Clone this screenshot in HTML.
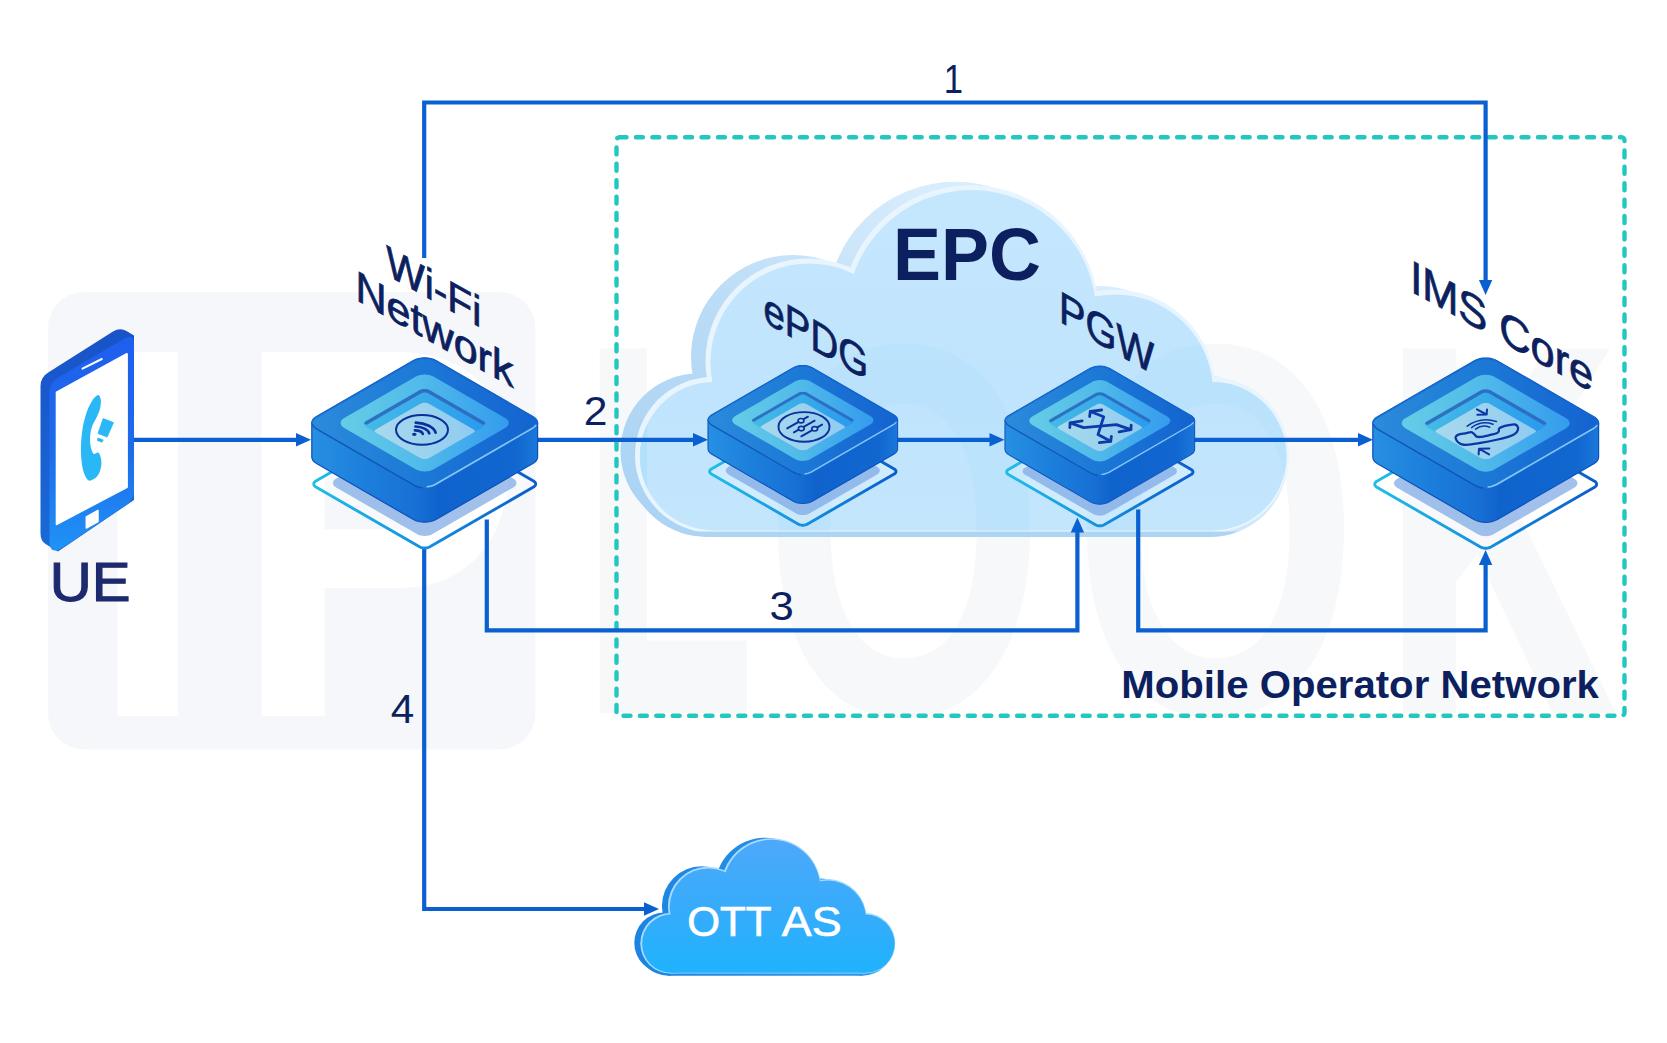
<!DOCTYPE html>
<html lang="en">
<head>
<meta charset="utf-8">
<title>VoWiFi network architecture</title>
<style>
html,body{margin:0;padding:0;background:#ffffff;}
body{width:1667px;height:1043px;overflow:hidden;font-family:"Liberation Sans", Arial, sans-serif;}
svg{display:block;}
</style>
</head>
<body>
<svg width="1667" height="1043" viewBox="0 0 1667 1043">
<defs>

<linearGradient id="gSide" gradientUnits="userSpaceOnUse" x1="-113" y1="0" x2="113" y2="0">
 <stop offset="0" stop-color="#2690e2"/><stop offset="0.25" stop-color="#1c7edb"/>
 <stop offset="0.46" stop-color="#1870d5"/><stop offset="0.56" stop-color="#1063cd"/>
 <stop offset="0.9" stop-color="#1166d0"/><stop offset="1" stop-color="#1b78da"/>
</linearGradient>
<linearGradient id="gTop" gradientUnits="userSpaceOnUse" x1="-113" y1="0" x2="113" y2="0">
 <stop offset="0" stop-color="#2b8bdb"/><stop offset="0.5" stop-color="#1c78d6"/><stop offset="1" stop-color="#1463d0"/>
</linearGradient>
<linearGradient id="gRing" gradientUnits="userSpaceOnUse" x1="-85" y1="0" x2="85" y2="0">
 <stop offset="0" stop-color="#66cde6"/><stop offset="0.5" stop-color="#4fb9ea"/><stop offset="1" stop-color="#349bee"/>
</linearGradient>
<linearGradient id="gWall" gradientUnits="userSpaceOnUse" x1="-61" y1="0" x2="61" y2="0">
 <stop offset="0" stop-color="#45bbe6"/><stop offset="1" stop-color="#2a9aee"/>
</linearGradient>
<linearGradient id="gFloor" gradientUnits="userSpaceOnUse" x1="-55" y1="0" x2="55" y2="0">
 <stop offset="0" stop-color="#a9daec"/><stop offset="1" stop-color="#8ecbf1"/>
</linearGradient>
<linearGradient id="gPlate" gradientUnits="userSpaceOnUse" x1="-113" y1="0" x2="113" y2="0">
 <stop offset="0" stop-color="#1fbfe8"/><stop offset="0.5" stop-color="#1590de"/><stop offset="1" stop-color="#0a5ccc"/>
</linearGradient>

<clipPath id="cOpen"><polygon points="58.5,-2 59.5,-1.4 60.1,-0.6 60.6,0.2 60.7,1 60.6,1.8 60.1,2.6 59.5,3.4 58.5,4 5.2,34.8 4.1,35.3 2.8,35.7 1.4,36 0,36 -1.4,36 -2.8,35.7 -4.1,35.3 -5.2,34.8 -58.5,4 -59.5,3.4 -60.1,2.6 -60.6,1.8 -60.7,1 -60.6,0.2 -60.1,-0.6 -59.5,-1.4 -58.5,-2 -5.2,-32.8 -4.1,-33.3 -2.8,-33.7 -1.4,-34 0,-34 1.4,-34 2.8,-33.7 4.1,-33.3 5.2,-32.8"/></clipPath>

<linearGradient id="gEpcBack" gradientUnits="userSpaceOnUse" x1="620" y1="540" x2="900" y2="180">
 <stop offset="0" stop-color="#a9d2f3"/><stop offset="0.5" stop-color="#b9dbf6"/><stop offset="1" stop-color="#d7ecfc"/>
</linearGradient>
<linearGradient id="gEpcFace" gradientUnits="userSpaceOnUse" x1="0" y1="185" x2="0" y2="531">
 <stop offset="0" stop-color="#c5e7fe"/><stop offset="0.6" stop-color="#c0e4fd"/><stop offset="1" stop-color="#c3e6fd"/>
</linearGradient>
<linearGradient id="gOttFace" gradientUnits="userSpaceOnUse" x1="0" y1="838" x2="0" y2="974">
 <stop offset="0" stop-color="#4ea8fa"/><stop offset="0.55" stop-color="#35acfb"/><stop offset="1" stop-color="#1fb3fd"/>
</linearGradient>
<linearGradient id="gOttBack" gradientUnits="userSpaceOnUse" x1="634" y1="0" x2="900" y2="0">
 <stop offset="0" stop-color="#1c84e0"/><stop offset="1" stop-color="#2f9bee"/>
</linearGradient>
<linearGradient id="gPhone" gradientUnits="userSpaceOnUse" x1="0" y1="335" x2="0" y2="550">
 <stop offset="0" stop-color="#1f5eee"/><stop offset="0.55" stop-color="#1d6ceb"/><stop offset="1" stop-color="#2093f6"/>
</linearGradient>
<linearGradient id="gPhoneSide" gradientUnits="userSpaceOnUse" x1="0" y1="330" x2="0" y2="550">
 <stop offset="0" stop-color="#1853c8"/><stop offset="1" stop-color="#1a6ad8"/>
</linearGradient>

<clipPath id="cEpc"><circle cx="714.2" cy="456.2" r="74.3"/><circle cx="809.2" cy="362.2" r="98.8"/><circle cx="971.5" cy="314.9" r="124.8"/><circle cx="1115.2" cy="392.2" r="97.8"/><circle cx="1212.2" cy="456.2" r="74.3"/><polygon points="714.2,530.5 714.2,456.2 809.2,362.2 971.5,314.9 1115.2,392.2 1212.2,456.2 1212.2,530.5"/></clipPath>
<clipPath id="cEpcAll"><circle cx="705" cy="459" r="77.5"/><circle cx="800" cy="365" r="102"/><circle cx="962.3" cy="317.7" r="128"/><circle cx="1106" cy="395" r="101"/><circle cx="1203" cy="459" r="77.5"/><polygon points="705,536.5 705,459 800,365 962.3,317.7 1106,395 1203,459 1203,536.5"/><circle cx="712" cy="459" r="78"/><circle cx="807" cy="365" r="102.5"/><circle cx="969.3" cy="317.7" r="128.5"/><circle cx="1113" cy="395" r="101.5"/><circle cx="1210" cy="459" r="78"/><polygon points="712,537 712,459 807,365 969.3,317.7 1113,395 1210,459 1210,537"/></clipPath>
</defs>
<rect width="1667" height="1043" fill="#ffffff"/>
<g id="watermark" font-family="'Liberation Sans', Arial, sans-serif" font-weight="bold" font-size="529">
<rect x="48" y="292" width="487.5" height="457.5" rx="36" fill="#f6f7fa"/>
<text x="89.4" y="716" font-size="529" fill="#ffffff" textLength="116.7" lengthAdjust="spacingAndGlyphs">I</text>
<text x="232.4" y="716" font-size="529" fill="#ffffff" textLength="291.6" lengthAdjust="spacingAndGlyphs">P</text>
<text x="585.9" y="705" font-size="506.5" fill="#f7f8fa" stroke="#f7f8fa" stroke-width="16" stroke-linejoin="miter" textLength="164.9" lengthAdjust="spacingAndGlyphs">L</text>
<text x="763.1" y="713" font-size="529" fill="#f7f8fa" textLength="282.1" lengthAdjust="spacingAndGlyphs">O</text>
<text x="1071.8" y="713" font-size="529" fill="#f7f8fa" textLength="287.7" lengthAdjust="spacingAndGlyphs">O</text>
<text x="1386.3" y="706" font-size="509.5" fill="#f7f8fa" stroke="#f7f8fa" stroke-width="14" stroke-linejoin="miter" textLength="223.6" lengthAdjust="spacingAndGlyphs">K</text>
</g>
<rect x="616.5" y="137.2" width="1008" height="578.6" rx="3" fill="none" stroke="#22c8c0" stroke-width="4.4" stroke-dasharray="7 9.4" stroke-linecap="round"/>
<g id="epc">
<g fill="url(#gEpcBack)"><circle cx="698" cy="451" r="77.5"/><circle cx="793" cy="357" r="102"/><circle cx="955.3" cy="309.7" r="128"/><circle cx="1099" cy="387" r="101"/><circle cx="1196" cy="451" r="77.5"/><polygon points="698,528.5 698,451 793,357 955.3,309.7 1099,387 1196,451 1196,528.5"/><circle cx="705" cy="459" r="77.5"/><circle cx="800" cy="365" r="102"/><circle cx="962.3" cy="317.7" r="128"/><circle cx="1106" cy="395" r="101"/><circle cx="1203" cy="459" r="77.5"/><polygon points="705,536.5 705,459 800,365 962.3,317.7 1106,395 1203,459 1203,536.5"/><circle cx="712" cy="459" r="78"/><circle cx="807" cy="365" r="102.5"/><circle cx="969.3" cy="317.7" r="128.5"/><circle cx="1113" cy="395" r="101.5"/><circle cx="1210" cy="459" r="78"/><polygon points="712,537 712,459 807,365 969.3,317.7 1113,395 1210,459 1210,537"/></g>
<g fill="#e9f5fe"><circle cx="713" cy="455" r="78"/><circle cx="808" cy="361" r="102.5"/><circle cx="970.3" cy="313.7" r="128.5"/><circle cx="1114" cy="391" r="101.5"/><circle cx="1211" cy="455" r="78"/><polygon points="713,533 713,455 808,361 970.3,313.7 1114,391 1211,455 1211,533"/></g>
<g fill="url(#gEpcFace)"><circle cx="714.2" cy="456.2" r="74.3"/><circle cx="809.2" cy="362.2" r="98.8"/><circle cx="971.5" cy="314.9" r="124.8"/><circle cx="1115.2" cy="392.2" r="97.8"/><circle cx="1212.2" cy="456.2" r="74.3"/><polygon points="714.2,530.5 714.2,456.2 809.2,362.2 971.5,314.9 1115.2,392.2 1212.2,456.2 1212.2,530.5"/></g>
<g clip-path="url(#cEpc)" font-family="'Liberation Sans', Arial, sans-serif" font-weight="bold" font-size="529" fill="#b3e0fb" fill-opacity="0.45">
<text x="585.9" y="705" font-size="506.5" fill="#b3e0fb" stroke="#b3e0fb" stroke-width="16" stroke-linejoin="miter" textLength="164.9" lengthAdjust="spacingAndGlyphs">L</text>
<text x="763.1" y="713" font-size="529" fill="#b3e0fb" textLength="282.1" lengthAdjust="spacingAndGlyphs">O</text>
<text x="1071.8" y="713" font-size="529" fill="#b3e0fb" textLength="287.7" lengthAdjust="spacingAndGlyphs">O</text>
</g>
<rect x="660" y="531.6" width="600" height="6" fill="#aed4f4" clip-path="url(#cEpcAll)"/>
</g>
<g id="lines">
<path d="M424.2 258 V102.5 H1485.6 V283" fill="none" stroke="#0a60d0" stroke-width="4.2" stroke-linejoin="miter"/>
<polygon points="1485.6,295 1478.9,280 1492.3,280" fill="#0a60d0"/>
<path d="M134 439.8 H299" fill="none" stroke="#0a60d0" stroke-width="4.2" stroke-linejoin="miter"/>
<polygon points="311,439.8 296,433.1 296,446.5" fill="#0a60d0"/>
<path d="M530 439.8 H696" fill="none" stroke="#0a60d0" stroke-width="4.2" stroke-linejoin="miter"/>
<polygon points="708,439.8 693,433.1 693,446.5" fill="#0a60d0"/>
<path d="M890 439.8 H992" fill="none" stroke="#0a60d0" stroke-width="4.2" stroke-linejoin="miter"/>
<polygon points="1004.5,439.8 989.5,433.1 989.5,446.5" fill="#0a60d0"/>
<path d="M1190 439.8 H1360" fill="none" stroke="#0a60d0" stroke-width="4.2" stroke-linejoin="miter"/>
<polygon points="1373,439.8 1358,433.1 1358,446.5" fill="#0a60d0"/>
<path d="M486.8 519.5 V630.3 H1077.4 V530" fill="none" stroke="#0a60d0" stroke-width="4.2" stroke-linejoin="miter"/>
<polygon points="1077.4,517.5 1070.7,532.5 1084.1,532.5" fill="#0a60d0"/>
<path d="M1138.2 509.5 V630.3 H1485.6 V562" fill="none" stroke="#0a60d0" stroke-width="4.2" stroke-linejoin="miter"/>
<polygon points="1485.6,550 1478.9,565 1492.3,565" fill="#0a60d0"/>
<path d="M424.2 548 V909 H646" fill="none" stroke="#0a60d0" stroke-width="4.2" stroke-linejoin="miter"/>
<polygon points="659,909 644,902.3 644,915.7" fill="#0a60d0"/>
</g>
<g class="node" transform="translate(424.7 423) scale(1.0)"><polygon points="108.8,58 109.7,58.6 110.4,59.4 110.8,60.2 110.9,61 110.8,61.8 110.4,62.6 109.7,63.4 108.8,64 5.2,123.8 4.1,124.3 2.8,124.7 1.4,125 0,125 -1.4,125 -2.8,124.7 -4.1,124.3 -5.2,123.8 -108.8,64 -109.7,63.4 -110.4,62.6 -110.8,61.8 -110.9,61 -110.8,60.2 -110.4,59.4 -109.7,58.6 -108.8,58 -5.2,-1.8 -4.1,-2.3 -2.8,-2.7 -1.4,-3 0,-3 1.4,-3 2.8,-2.7 4.1,-2.3 5.2,-1.8" fill="#ffffff" fill-opacity="0.24" stroke="url(#gPlate)" stroke-width="2.9" stroke-linejoin="round" vector-effect="non-scaling-stroke"/>
<polygon points="88.5,55.5 89.9,56.5 90.9,57.6 91.5,58.8 91.7,60 91.5,61.2 90.9,62.4 89.9,63.5 88.5,64.5 7.8,111.1 6.1,111.9 4.2,112.5 2.2,112.8 0,113 -2.2,112.8 -4.2,112.5 -6.1,111.9 -7.8,111.1 -88.5,64.5 -89.9,63.5 -90.9,62.4 -91.5,61.2 -91.7,60 -91.5,58.8 -90.9,57.6 -89.9,56.5 -88.5,55.5 -7.8,8.9 -6.1,8.1 -4.2,7.5 -2.2,7.2 0,7 2.2,7.2 4.2,7.5 6.1,8.1 7.8,8.9" fill="#74a3e3" fill-opacity="0.68"/>
<polygon points="-112.9,0 -112.6,-1.8 -111.7,-3.5 -110.2,-5.1 -108.2,-6.5 -11.3,-62.5 -8.8,-63.6 -6.1,-64.5 -3.1,-65 0,-65.2 3.1,-65 6.1,-64.5 8.8,-63.6 11.3,-62.5 108.2,-6.5 110.2,-5.1 111.7,-3.5 112.6,-1.8 112.9,0 112.9,34 112.6,35.8 111.7,37.5 110.2,39.1 108.2,40.5 11.3,96.5 8.8,97.6 6.1,98.5 3.1,99 0,99.2 -3.1,99 -6.1,98.5 -8.8,97.6 -11.3,96.5 -108.2,40.5 -110.2,39.1 -111.7,37.5 -112.6,35.8 -112.9,34" fill="url(#gSide)" stroke="#0c50ba" stroke-width="1.2" stroke-linejoin="round"/>
<polygon points="108.2,-6.5 110.2,-5.1 111.7,-3.5 112.6,-1.8 112.9,0 112.6,1.8 111.7,3.5 110.2,5.1 108.2,6.5 11.3,62.5 8.8,63.6 6.1,64.5 3.1,65 0,65.2 -3.1,65 -6.1,64.5 -8.8,63.6 -11.3,62.5 -108.2,6.5 -110.2,5.1 -111.7,3.5 -112.6,1.8 -112.9,0 -112.6,-1.8 -111.7,-3.5 -110.2,-5.1 -108.2,-6.5 -11.3,-62.5 -8.8,-63.6 -6.1,-64.5 -3.1,-65 0,-65.2 3.1,-65 6.1,-64.5 8.8,-63.6 11.3,-62.5" fill="url(#gTop)"/>
<polyline points="-112.9,0.6 -112.6,-1.2 -111.7,-2.9 -110.2,-4.5 -108.2,-5.9 -11.3,-61.9 -8.8,-63 -6.1,-63.9 -3.1,-64.4 0,-64.6 3.1,-64.4 6.1,-63.9 8.8,-63 11.3,-61.9 108.2,-5.9 110.2,-4.5 111.7,-2.9 112.6,-1.2 112.9,0.6" fill="none" stroke="#1266ce" stroke-width="1.5" stroke-linecap="round" opacity="0.8"/>
<polyline points="111.2,2.3 109.7,3.9 107.8,5.3 10.8,61.3 8.3,62.4 5.6,63.3 2.6,63.8" fill="none" stroke="#8ed2fb" stroke-width="1.6" stroke-linecap="round" opacity="0.9"/>
<polyline points="-2.6,64.7 -5.6,64.2 -8.3,63.3 -10.8,62.2 -107.8,6.2 -109.7,4.8 -111.2,3.2 -112.1,1.5" fill="none" stroke="#0d4fb4" stroke-width="1.5" stroke-linecap="round" opacity="0.85"/>
<polygon points="80.4,-5 81.9,-3.9 83,-2.7 83.7,-1.4 84,0 83.7,1.4 83,2.7 81.9,3.9 80.4,5 8.7,46.4 6.8,47.3 4.7,47.9 2.4,48.3 0,48.5 -2.4,48.3 -4.7,47.9 -6.8,47.3 -8.7,46.4 -80.4,5 -81.9,3.9 -83,2.7 -83.7,1.4 -84,0 -83.7,-1.4 -83,-2.7 -81.9,-3.9 -80.4,-5 -8.7,-46.4 -6.8,-47.3 -4.7,-47.9 -2.4,-48.3 0,-48.5 2.4,-48.3 4.7,-47.9 6.8,-47.3 8.7,-46.4" fill="url(#gRing)"/>
<polygon points="58.5,-2 59.5,-1.4 60.1,-0.6 60.6,0.2 60.7,1 60.6,1.8 60.1,2.6 59.5,3.4 58.5,4 5.2,34.8 4.1,35.3 2.8,35.7 1.4,36 0,36 -1.4,36 -2.8,35.7 -4.1,35.3 -5.2,34.8 -58.5,4 -59.5,3.4 -60.1,2.6 -60.6,1.8 -60.7,1 -60.6,0.2 -60.1,-0.6 -59.5,-1.4 -58.5,-2 -5.2,-32.8 -4.1,-33.3 -2.8,-33.7 -1.4,-34 0,-34 1.4,-34 2.8,-33.7 4.1,-33.3 5.2,-32.8" fill="url(#gWall)"/>
<g clip-path="url(#cOpen)">
<polygon points="48.5,6.3 49.3,6.8 49.8,7.4 50.2,8.1 50.3,8.8 50.2,9.5 49.8,10.2 49.3,10.8 48.5,11.3 4.3,36.8 3.4,37.2 2.3,37.6 1.2,37.8 0,37.8 -1.2,37.8 -2.3,37.6 -3.4,37.2 -4.3,36.8 -48.5,11.3 -49.3,10.8 -49.8,10.2 -50.2,9.5 -50.3,8.8 -50.2,8.1 -49.8,7.4 -49.3,6.8 -48.5,6.3 -4.3,-19.2 -3.4,-19.6 -2.3,-20 -1.2,-20.2 0,-20.2 1.2,-20.2 2.3,-20 3.4,-19.6 4.3,-19.2" fill="url(#gFloor)"/>
<polyline points="-60.7,1 -60.6,0.2 -60.1,-0.6 -59.5,-1.4 -58.5,-2 -5.2,-32.8 -4.1,-33.3 -2.8,-33.7 -1.4,-34 0,-34 1.4,-34 2.8,-33.7 4.1,-33.3 5.2,-32.8 58.5,-2 59.5,-1.4 60.1,-0.6 60.6,0.2 60.7,1" fill="none" stroke="#2c69be" stroke-width="7" stroke-linejoin="round" opacity="0.9"/>
</g></g>
<g class="node" transform="translate(802.8 420.2) scale(0.84)"><polygon points="108.8,58 109.7,58.6 110.4,59.4 110.8,60.2 110.9,61 110.8,61.8 110.4,62.6 109.7,63.4 108.8,64 5.2,123.8 4.1,124.3 2.8,124.7 1.4,125 0,125 -1.4,125 -2.8,124.7 -4.1,124.3 -5.2,123.8 -108.8,64 -109.7,63.4 -110.4,62.6 -110.8,61.8 -110.9,61 -110.8,60.2 -110.4,59.4 -109.7,58.6 -108.8,58 -5.2,-1.8 -4.1,-2.3 -2.8,-2.7 -1.4,-3 0,-3 1.4,-3 2.8,-2.7 4.1,-2.3 5.2,-1.8" fill="#ffffff" fill-opacity="0.24" stroke="url(#gPlate)" stroke-width="2.9" stroke-linejoin="round" vector-effect="non-scaling-stroke"/>
<polygon points="88.5,55.5 89.9,56.5 90.9,57.6 91.5,58.8 91.7,60 91.5,61.2 90.9,62.4 89.9,63.5 88.5,64.5 7.8,111.1 6.1,111.9 4.2,112.5 2.2,112.8 0,113 -2.2,112.8 -4.2,112.5 -6.1,111.9 -7.8,111.1 -88.5,64.5 -89.9,63.5 -90.9,62.4 -91.5,61.2 -91.7,60 -91.5,58.8 -90.9,57.6 -89.9,56.5 -88.5,55.5 -7.8,8.9 -6.1,8.1 -4.2,7.5 -2.2,7.2 0,7 2.2,7.2 4.2,7.5 6.1,8.1 7.8,8.9" fill="#74a3e3" fill-opacity="0.68"/>
<polygon points="-112.9,0 -112.6,-1.8 -111.7,-3.5 -110.2,-5.1 -108.2,-6.5 -11.3,-62.5 -8.8,-63.6 -6.1,-64.5 -3.1,-65 0,-65.2 3.1,-65 6.1,-64.5 8.8,-63.6 11.3,-62.5 108.2,-6.5 110.2,-5.1 111.7,-3.5 112.6,-1.8 112.9,0 112.9,34 112.6,35.8 111.7,37.5 110.2,39.1 108.2,40.5 11.3,96.5 8.8,97.6 6.1,98.5 3.1,99 0,99.2 -3.1,99 -6.1,98.5 -8.8,97.6 -11.3,96.5 -108.2,40.5 -110.2,39.1 -111.7,37.5 -112.6,35.8 -112.9,34" fill="url(#gSide)" stroke="#0c50ba" stroke-width="1.2" stroke-linejoin="round"/>
<polygon points="108.2,-6.5 110.2,-5.1 111.7,-3.5 112.6,-1.8 112.9,0 112.6,1.8 111.7,3.5 110.2,5.1 108.2,6.5 11.3,62.5 8.8,63.6 6.1,64.5 3.1,65 0,65.2 -3.1,65 -6.1,64.5 -8.8,63.6 -11.3,62.5 -108.2,6.5 -110.2,5.1 -111.7,3.5 -112.6,1.8 -112.9,0 -112.6,-1.8 -111.7,-3.5 -110.2,-5.1 -108.2,-6.5 -11.3,-62.5 -8.8,-63.6 -6.1,-64.5 -3.1,-65 0,-65.2 3.1,-65 6.1,-64.5 8.8,-63.6 11.3,-62.5" fill="url(#gTop)"/>
<polyline points="-112.9,0.6 -112.6,-1.2 -111.7,-2.9 -110.2,-4.5 -108.2,-5.9 -11.3,-61.9 -8.8,-63 -6.1,-63.9 -3.1,-64.4 0,-64.6 3.1,-64.4 6.1,-63.9 8.8,-63 11.3,-61.9 108.2,-5.9 110.2,-4.5 111.7,-2.9 112.6,-1.2 112.9,0.6" fill="none" stroke="#1266ce" stroke-width="1.5" stroke-linecap="round" opacity="0.8"/>
<polyline points="111.2,2.3 109.7,3.9 107.8,5.3 10.8,61.3 8.3,62.4 5.6,63.3 2.6,63.8" fill="none" stroke="#8ed2fb" stroke-width="1.6" stroke-linecap="round" opacity="0.9"/>
<polyline points="-2.6,64.7 -5.6,64.2 -8.3,63.3 -10.8,62.2 -107.8,6.2 -109.7,4.8 -111.2,3.2 -112.1,1.5" fill="none" stroke="#0d4fb4" stroke-width="1.5" stroke-linecap="round" opacity="0.85"/>
<polygon points="80.4,-5 81.9,-3.9 83,-2.7 83.7,-1.4 84,0 83.7,1.4 83,2.7 81.9,3.9 80.4,5 8.7,46.4 6.8,47.3 4.7,47.9 2.4,48.3 0,48.5 -2.4,48.3 -4.7,47.9 -6.8,47.3 -8.7,46.4 -80.4,5 -81.9,3.9 -83,2.7 -83.7,1.4 -84,0 -83.7,-1.4 -83,-2.7 -81.9,-3.9 -80.4,-5 -8.7,-46.4 -6.8,-47.3 -4.7,-47.9 -2.4,-48.3 0,-48.5 2.4,-48.3 4.7,-47.9 6.8,-47.3 8.7,-46.4" fill="url(#gRing)"/>
<polygon points="58.5,-2 59.5,-1.4 60.1,-0.6 60.6,0.2 60.7,1 60.6,1.8 60.1,2.6 59.5,3.4 58.5,4 5.2,34.8 4.1,35.3 2.8,35.7 1.4,36 0,36 -1.4,36 -2.8,35.7 -4.1,35.3 -5.2,34.8 -58.5,4 -59.5,3.4 -60.1,2.6 -60.6,1.8 -60.7,1 -60.6,0.2 -60.1,-0.6 -59.5,-1.4 -58.5,-2 -5.2,-32.8 -4.1,-33.3 -2.8,-33.7 -1.4,-34 0,-34 1.4,-34 2.8,-33.7 4.1,-33.3 5.2,-32.8" fill="url(#gWall)"/>
<g clip-path="url(#cOpen)">
<polygon points="48.5,6.3 49.3,6.8 49.8,7.4 50.2,8.1 50.3,8.8 50.2,9.5 49.8,10.2 49.3,10.8 48.5,11.3 4.3,36.8 3.4,37.2 2.3,37.6 1.2,37.8 0,37.8 -1.2,37.8 -2.3,37.6 -3.4,37.2 -4.3,36.8 -48.5,11.3 -49.3,10.8 -49.8,10.2 -50.2,9.5 -50.3,8.8 -50.2,8.1 -49.8,7.4 -49.3,6.8 -48.5,6.3 -4.3,-19.2 -3.4,-19.6 -2.3,-20 -1.2,-20.2 0,-20.2 1.2,-20.2 2.3,-20 3.4,-19.6 4.3,-19.2" fill="url(#gFloor)"/>
<polyline points="-60.7,1 -60.6,0.2 -60.1,-0.6 -59.5,-1.4 -58.5,-2 -5.2,-32.8 -4.1,-33.3 -2.8,-33.7 -1.4,-34 0,-34 1.4,-34 2.8,-33.7 4.1,-33.3 5.2,-32.8 58.5,-2 59.5,-1.4 60.1,-0.6 60.6,0.2 60.7,1" fill="none" stroke="#2c69be" stroke-width="7" stroke-linejoin="round" opacity="0.9"/>
</g></g>
<g class="node" transform="translate(1099.8 420.8) scale(0.84)"><polygon points="108.8,58 109.7,58.6 110.4,59.4 110.8,60.2 110.9,61 110.8,61.8 110.4,62.6 109.7,63.4 108.8,64 5.2,123.8 4.1,124.3 2.8,124.7 1.4,125 0,125 -1.4,125 -2.8,124.7 -4.1,124.3 -5.2,123.8 -108.8,64 -109.7,63.4 -110.4,62.6 -110.8,61.8 -110.9,61 -110.8,60.2 -110.4,59.4 -109.7,58.6 -108.8,58 -5.2,-1.8 -4.1,-2.3 -2.8,-2.7 -1.4,-3 0,-3 1.4,-3 2.8,-2.7 4.1,-2.3 5.2,-1.8" fill="#ffffff" fill-opacity="0.24" stroke="url(#gPlate)" stroke-width="2.9" stroke-linejoin="round" vector-effect="non-scaling-stroke"/>
<polygon points="88.5,55.5 89.9,56.5 90.9,57.6 91.5,58.8 91.7,60 91.5,61.2 90.9,62.4 89.9,63.5 88.5,64.5 7.8,111.1 6.1,111.9 4.2,112.5 2.2,112.8 0,113 -2.2,112.8 -4.2,112.5 -6.1,111.9 -7.8,111.1 -88.5,64.5 -89.9,63.5 -90.9,62.4 -91.5,61.2 -91.7,60 -91.5,58.8 -90.9,57.6 -89.9,56.5 -88.5,55.5 -7.8,8.9 -6.1,8.1 -4.2,7.5 -2.2,7.2 0,7 2.2,7.2 4.2,7.5 6.1,8.1 7.8,8.9" fill="#74a3e3" fill-opacity="0.68"/>
<polygon points="-112.9,0 -112.6,-1.8 -111.7,-3.5 -110.2,-5.1 -108.2,-6.5 -11.3,-62.5 -8.8,-63.6 -6.1,-64.5 -3.1,-65 0,-65.2 3.1,-65 6.1,-64.5 8.8,-63.6 11.3,-62.5 108.2,-6.5 110.2,-5.1 111.7,-3.5 112.6,-1.8 112.9,0 112.9,34 112.6,35.8 111.7,37.5 110.2,39.1 108.2,40.5 11.3,96.5 8.8,97.6 6.1,98.5 3.1,99 0,99.2 -3.1,99 -6.1,98.5 -8.8,97.6 -11.3,96.5 -108.2,40.5 -110.2,39.1 -111.7,37.5 -112.6,35.8 -112.9,34" fill="url(#gSide)" stroke="#0c50ba" stroke-width="1.2" stroke-linejoin="round"/>
<polygon points="108.2,-6.5 110.2,-5.1 111.7,-3.5 112.6,-1.8 112.9,0 112.6,1.8 111.7,3.5 110.2,5.1 108.2,6.5 11.3,62.5 8.8,63.6 6.1,64.5 3.1,65 0,65.2 -3.1,65 -6.1,64.5 -8.8,63.6 -11.3,62.5 -108.2,6.5 -110.2,5.1 -111.7,3.5 -112.6,1.8 -112.9,0 -112.6,-1.8 -111.7,-3.5 -110.2,-5.1 -108.2,-6.5 -11.3,-62.5 -8.8,-63.6 -6.1,-64.5 -3.1,-65 0,-65.2 3.1,-65 6.1,-64.5 8.8,-63.6 11.3,-62.5" fill="url(#gTop)"/>
<polyline points="-112.9,0.6 -112.6,-1.2 -111.7,-2.9 -110.2,-4.5 -108.2,-5.9 -11.3,-61.9 -8.8,-63 -6.1,-63.9 -3.1,-64.4 0,-64.6 3.1,-64.4 6.1,-63.9 8.8,-63 11.3,-61.9 108.2,-5.9 110.2,-4.5 111.7,-2.9 112.6,-1.2 112.9,0.6" fill="none" stroke="#1266ce" stroke-width="1.5" stroke-linecap="round" opacity="0.8"/>
<polyline points="111.2,2.3 109.7,3.9 107.8,5.3 10.8,61.3 8.3,62.4 5.6,63.3 2.6,63.8" fill="none" stroke="#8ed2fb" stroke-width="1.6" stroke-linecap="round" opacity="0.9"/>
<polyline points="-2.6,64.7 -5.6,64.2 -8.3,63.3 -10.8,62.2 -107.8,6.2 -109.7,4.8 -111.2,3.2 -112.1,1.5" fill="none" stroke="#0d4fb4" stroke-width="1.5" stroke-linecap="round" opacity="0.85"/>
<polygon points="80.4,-5 81.9,-3.9 83,-2.7 83.7,-1.4 84,0 83.7,1.4 83,2.7 81.9,3.9 80.4,5 8.7,46.4 6.8,47.3 4.7,47.9 2.4,48.3 0,48.5 -2.4,48.3 -4.7,47.9 -6.8,47.3 -8.7,46.4 -80.4,5 -81.9,3.9 -83,2.7 -83.7,1.4 -84,0 -83.7,-1.4 -83,-2.7 -81.9,-3.9 -80.4,-5 -8.7,-46.4 -6.8,-47.3 -4.7,-47.9 -2.4,-48.3 0,-48.5 2.4,-48.3 4.7,-47.9 6.8,-47.3 8.7,-46.4" fill="url(#gRing)"/>
<polygon points="58.5,-2 59.5,-1.4 60.1,-0.6 60.6,0.2 60.7,1 60.6,1.8 60.1,2.6 59.5,3.4 58.5,4 5.2,34.8 4.1,35.3 2.8,35.7 1.4,36 0,36 -1.4,36 -2.8,35.7 -4.1,35.3 -5.2,34.8 -58.5,4 -59.5,3.4 -60.1,2.6 -60.6,1.8 -60.7,1 -60.6,0.2 -60.1,-0.6 -59.5,-1.4 -58.5,-2 -5.2,-32.8 -4.1,-33.3 -2.8,-33.7 -1.4,-34 0,-34 1.4,-34 2.8,-33.7 4.1,-33.3 5.2,-32.8" fill="url(#gWall)"/>
<g clip-path="url(#cOpen)">
<polygon points="48.5,6.3 49.3,6.8 49.8,7.4 50.2,8.1 50.3,8.8 50.2,9.5 49.8,10.2 49.3,10.8 48.5,11.3 4.3,36.8 3.4,37.2 2.3,37.6 1.2,37.8 0,37.8 -1.2,37.8 -2.3,37.6 -3.4,37.2 -4.3,36.8 -48.5,11.3 -49.3,10.8 -49.8,10.2 -50.2,9.5 -50.3,8.8 -50.2,8.1 -49.8,7.4 -49.3,6.8 -48.5,6.3 -4.3,-19.2 -3.4,-19.6 -2.3,-20 -1.2,-20.2 0,-20.2 1.2,-20.2 2.3,-20 3.4,-19.6 4.3,-19.2" fill="url(#gFloor)"/>
<polyline points="-60.7,1 -60.6,0.2 -60.1,-0.6 -59.5,-1.4 -58.5,-2 -5.2,-32.8 -4.1,-33.3 -2.8,-33.7 -1.4,-34 0,-34 1.4,-34 2.8,-33.7 4.1,-33.3 5.2,-32.8 58.5,-2 59.5,-1.4 60.1,-0.6 60.6,0.2 60.7,1" fill="none" stroke="#2c69be" stroke-width="7" stroke-linejoin="round" opacity="0.9"/>
</g></g>
<g class="node" transform="translate(1485.7 423.2) scale(1.0)"><polygon points="108.8,58 109.7,58.6 110.4,59.4 110.8,60.2 110.9,61 110.8,61.8 110.4,62.6 109.7,63.4 108.8,64 5.2,123.8 4.1,124.3 2.8,124.7 1.4,125 0,125 -1.4,125 -2.8,124.7 -4.1,124.3 -5.2,123.8 -108.8,64 -109.7,63.4 -110.4,62.6 -110.8,61.8 -110.9,61 -110.8,60.2 -110.4,59.4 -109.7,58.6 -108.8,58 -5.2,-1.8 -4.1,-2.3 -2.8,-2.7 -1.4,-3 0,-3 1.4,-3 2.8,-2.7 4.1,-2.3 5.2,-1.8" fill="#ffffff" fill-opacity="0.24" stroke="url(#gPlate)" stroke-width="2.9" stroke-linejoin="round" vector-effect="non-scaling-stroke"/>
<polygon points="88.5,55.5 89.9,56.5 90.9,57.6 91.5,58.8 91.7,60 91.5,61.2 90.9,62.4 89.9,63.5 88.5,64.5 7.8,111.1 6.1,111.9 4.2,112.5 2.2,112.8 0,113 -2.2,112.8 -4.2,112.5 -6.1,111.9 -7.8,111.1 -88.5,64.5 -89.9,63.5 -90.9,62.4 -91.5,61.2 -91.7,60 -91.5,58.8 -90.9,57.6 -89.9,56.5 -88.5,55.5 -7.8,8.9 -6.1,8.1 -4.2,7.5 -2.2,7.2 0,7 2.2,7.2 4.2,7.5 6.1,8.1 7.8,8.9" fill="#74a3e3" fill-opacity="0.68"/>
<polygon points="-112.9,0 -112.6,-1.8 -111.7,-3.5 -110.2,-5.1 -108.2,-6.5 -11.3,-62.5 -8.8,-63.6 -6.1,-64.5 -3.1,-65 0,-65.2 3.1,-65 6.1,-64.5 8.8,-63.6 11.3,-62.5 108.2,-6.5 110.2,-5.1 111.7,-3.5 112.6,-1.8 112.9,0 112.9,34 112.6,35.8 111.7,37.5 110.2,39.1 108.2,40.5 11.3,96.5 8.8,97.6 6.1,98.5 3.1,99 0,99.2 -3.1,99 -6.1,98.5 -8.8,97.6 -11.3,96.5 -108.2,40.5 -110.2,39.1 -111.7,37.5 -112.6,35.8 -112.9,34" fill="url(#gSide)" stroke="#0c50ba" stroke-width="1.2" stroke-linejoin="round"/>
<polygon points="108.2,-6.5 110.2,-5.1 111.7,-3.5 112.6,-1.8 112.9,0 112.6,1.8 111.7,3.5 110.2,5.1 108.2,6.5 11.3,62.5 8.8,63.6 6.1,64.5 3.1,65 0,65.2 -3.1,65 -6.1,64.5 -8.8,63.6 -11.3,62.5 -108.2,6.5 -110.2,5.1 -111.7,3.5 -112.6,1.8 -112.9,0 -112.6,-1.8 -111.7,-3.5 -110.2,-5.1 -108.2,-6.5 -11.3,-62.5 -8.8,-63.6 -6.1,-64.5 -3.1,-65 0,-65.2 3.1,-65 6.1,-64.5 8.8,-63.6 11.3,-62.5" fill="url(#gTop)"/>
<polyline points="-112.9,0.6 -112.6,-1.2 -111.7,-2.9 -110.2,-4.5 -108.2,-5.9 -11.3,-61.9 -8.8,-63 -6.1,-63.9 -3.1,-64.4 0,-64.6 3.1,-64.4 6.1,-63.9 8.8,-63 11.3,-61.9 108.2,-5.9 110.2,-4.5 111.7,-2.9 112.6,-1.2 112.9,0.6" fill="none" stroke="#1266ce" stroke-width="1.5" stroke-linecap="round" opacity="0.8"/>
<polyline points="111.2,2.3 109.7,3.9 107.8,5.3 10.8,61.3 8.3,62.4 5.6,63.3 2.6,63.8" fill="none" stroke="#8ed2fb" stroke-width="1.6" stroke-linecap="round" opacity="0.9"/>
<polyline points="-2.6,64.7 -5.6,64.2 -8.3,63.3 -10.8,62.2 -107.8,6.2 -109.7,4.8 -111.2,3.2 -112.1,1.5" fill="none" stroke="#0d4fb4" stroke-width="1.5" stroke-linecap="round" opacity="0.85"/>
<polygon points="80.4,-5 81.9,-3.9 83,-2.7 83.7,-1.4 84,0 83.7,1.4 83,2.7 81.9,3.9 80.4,5 8.7,46.4 6.8,47.3 4.7,47.9 2.4,48.3 0,48.5 -2.4,48.3 -4.7,47.9 -6.8,47.3 -8.7,46.4 -80.4,5 -81.9,3.9 -83,2.7 -83.7,1.4 -84,0 -83.7,-1.4 -83,-2.7 -81.9,-3.9 -80.4,-5 -8.7,-46.4 -6.8,-47.3 -4.7,-47.9 -2.4,-48.3 0,-48.5 2.4,-48.3 4.7,-47.9 6.8,-47.3 8.7,-46.4" fill="url(#gRing)"/>
<polygon points="58.5,-2 59.5,-1.4 60.1,-0.6 60.6,0.2 60.7,1 60.6,1.8 60.1,2.6 59.5,3.4 58.5,4 5.2,34.8 4.1,35.3 2.8,35.7 1.4,36 0,36 -1.4,36 -2.8,35.7 -4.1,35.3 -5.2,34.8 -58.5,4 -59.5,3.4 -60.1,2.6 -60.6,1.8 -60.7,1 -60.6,0.2 -60.1,-0.6 -59.5,-1.4 -58.5,-2 -5.2,-32.8 -4.1,-33.3 -2.8,-33.7 -1.4,-34 0,-34 1.4,-34 2.8,-33.7 4.1,-33.3 5.2,-32.8" fill="url(#gWall)"/>
<g clip-path="url(#cOpen)">
<polygon points="48.5,6.3 49.3,6.8 49.8,7.4 50.2,8.1 50.3,8.8 50.2,9.5 49.8,10.2 49.3,10.8 48.5,11.3 4.3,36.8 3.4,37.2 2.3,37.6 1.2,37.8 0,37.8 -1.2,37.8 -2.3,37.6 -3.4,37.2 -4.3,36.8 -48.5,11.3 -49.3,10.8 -49.8,10.2 -50.2,9.5 -50.3,8.8 -50.2,8.1 -49.8,7.4 -49.3,6.8 -48.5,6.3 -4.3,-19.2 -3.4,-19.6 -2.3,-20 -1.2,-20.2 0,-20.2 1.2,-20.2 2.3,-20 3.4,-19.6 4.3,-19.2" fill="url(#gFloor)"/>
<polyline points="-60.7,1 -60.6,0.2 -60.1,-0.6 -59.5,-1.4 -58.5,-2 -5.2,-32.8 -4.1,-33.3 -2.8,-33.7 -1.4,-34 0,-34 1.4,-34 2.8,-33.7 4.1,-33.3 5.2,-32.8 58.5,-2 59.5,-1.4 60.1,-0.6 60.6,0.2 60.7,1" fill="none" stroke="#2c69be" stroke-width="7" stroke-linejoin="round" opacity="0.9"/>
</g></g>
<g id="ic-wifi" fill="none" stroke="#0c2f9c" stroke-linecap="round">
<ellipse cx="422" cy="429.8" rx="26" ry="14.9" stroke-width="2"/>
<ellipse cx="414.3" cy="434.3" rx="2.3" ry="1.6" fill="#0c2f9c" stroke="none"/>
<path d="M414.9 430.4 A8.6 4.2 0 0 1 422.8 433.9" stroke-width="2.7" stroke-linecap="round"/>
<path d="M415.4 426.5 A15.2 8.1 0 0 1 429.3 433.3" stroke-width="2.7" stroke-linecap="round"/>
<path d="M415.8 422.7 A21.6 11.9 0 0 1 435.6 432.7" stroke-width="2.7" stroke-linecap="round"/>
</g>
<g id="ic-epdg" fill="none" stroke="#0c2f9c" stroke-linecap="round" stroke-width="1.9">
<ellipse cx="804" cy="426.9" rx="25.5" ry="14.8"/>
<path d="M787.2 428.4 L808 416.7"/>
<ellipse cx="801" cy="420.7" rx="2.9" ry="2.2" fill="#a3d7ee" stroke-width="1.7"/>
<path d="M793.9 432.4 L814.7 420.7"/>
<ellipse cx="801.3" cy="428.6" rx="2.9" ry="2.2" fill="#a3d7ee" stroke-width="1.7"/>
<path d="M801.3 436.3 L822.1 424.6"/>
<ellipse cx="814.7" cy="428.8" rx="2.9" ry="2.2" fill="#a3d7ee" stroke-width="1.7"/>
</g>
<g id="ic-pgw" fill="none" stroke="#0d3aa9" stroke-linecap="round" stroke-linejoin="round" stroke-width="2.8">
<path d="M1070.1 422.9 L1083.6 427.6 L1116.4 424.6 L1130.9 429.6"/>
<path d="M1082.2 420.9 L1070.1 422.9 L1069.8 427.6"/><path d="M1131.2 425.2 L1130.9 429.6 L1119.1 431.9"/>
<path d="M1090.3 411.5 L1103.7 416.8 L1098 434.6 L1110.7 441.3"/>
<path d="M1101.7 410 L1090.3 411.5 L1089.6 416.5"/><path d="M1111.4 436.3 L1110.7 441.3 L1099.3 442.7"/>
</g>
<g id="ic-ims" fill="none" stroke="#0d36a4" stroke-linecap="round" stroke-linejoin="round">
<path d="M1455.8 436.6 C1456.2 435.9 1456.9 435.2 1458.5 434.6 C1460.1 434.1 1463.1 433.7 1465.2 433.3 C1467.3 432.9 1469.8 432.1 1471.2 432.2 C1472.7 432.3 1473 433.2 1473.9 433.9 C1474.8 434.6 1475.5 436.1 1476.6 436.6 C1477.7 437.1 1478.6 437.1 1480.6 436.9 C1482.6 436.7 1486 435.9 1488.7 435.3 C1491.4 434.7 1495 434 1496.7 433.3 C1498.4 432.6 1498.4 432 1498.8 431.2 C1499.2 430.4 1498.5 429.3 1499.1 428.6 C1499.6 427.9 1500.5 427.5 1502.1 426.9 C1503.7 426.3 1506.7 425.6 1508.8 425.2 C1510.9 424.8 1513.4 424.3 1514.9 424.5 C1516.4 424.7 1517.1 425.6 1517.6 426.5 C1518.1 427.4 1518.4 428.7 1517.9 429.9 C1517.5 431.1 1516.4 432.8 1514.9 433.9 C1513.4 435 1512 435.6 1508.8 436.6 C1505.5 437.6 1499.9 439 1495.4 440 C1490.9 441 1486.5 441.9 1482 442.7 C1477.5 443.5 1472 444.4 1468.6 444.7 C1465.2 445 1463.6 444.8 1461.8 444.3 C1460 443.9 1458.8 442.9 1457.8 442 C1456.8 441.1 1456.1 439.5 1455.8 438.6 C1455.5 437.7 1455.3 437.3 1455.8 436.6Z" stroke-width="2.3"/>
<path d="M1467.2 426.2 Q1480.5 416.5 1496.4 421.5" stroke-width="1.5"/>
<path d="M1471.6 427.6 Q1481.5 420.2 1493 424.2" stroke-width="1.5"/>
<path d="M1475.6 429.2 Q1482 424 1489.7 427.2" stroke-width="1.5"/>
<path d="M1476.9 409.4 L1486.7 414.5 M1487 409.4 L1486.7 414.5 L1477.3 414.8" stroke-width="2"/>
<path d="M1489 454.4 L1479 448.7 M1489.4 448.6 L1479 448.7 L1478.6 454.4" stroke-width="2"/>
</g>
<g id="labels" font-family="'Liberation Sans', Arial, sans-serif">
<text transform="matrix(1 0.56 0 1 386.3 274.8)" font-size="43" fill="#0c1f5f" stroke="#0c1f5f" stroke-width="0.8" font-weight="normal" textLength="95" lengthAdjust="spacingAndGlyphs">Wi-Fi</text>
<text transform="matrix(1 0.56 0 1 355.5 299.6)" font-size="43" fill="#0c1f5f" stroke="#0c1f5f" stroke-width="0.8" font-weight="normal" textLength="158" lengthAdjust="spacingAndGlyphs">Network</text>
<text transform="matrix(1 0.572 0 1 763.5 321.4)" font-size="44.5" fill="#0c1f5f" stroke="#0c1f5f" stroke-width="0.8" font-weight="normal" textLength="104.5" lengthAdjust="spacingAndGlyphs">ePDG</text>
<text transform="matrix(1 0.565 0 1 1059 321.3)" font-size="44.8" fill="#0c1f5f" stroke="#0c1f5f" stroke-width="0.8" font-weight="normal" textLength="95" lengthAdjust="spacingAndGlyphs">PGW</text>
<text transform="matrix(1 0.557 0 1 1410.2 290.9)" font-size="45.8" fill="#0c1f5f" stroke="#0c1f5f" stroke-width="0.8" font-weight="normal" textLength="183" lengthAdjust="spacingAndGlyphs">IMS Core</text>
<text x="893.1" y="279.7" font-size="73.2" font-weight="bold" fill="#0c1f5f" textLength="147.8" lengthAdjust="spacingAndGlyphs">EPC</text>
<text x="1121.3" y="698" font-size="39.1" font-weight="bold" fill="#0c1f5f" textLength="477.6" lengthAdjust="spacingAndGlyphs">Mobile Operator Network</text>
<text x="49.7" y="601" font-size="55.6" font-weight="normal" fill="#1d2a6d" stroke="#1d2a6d" stroke-width="1.1" textLength="80.8" lengthAdjust="spacingAndGlyphs">UE</text>
<text x="943.8" y="92.8" font-size="41.3" font-weight="normal" fill="#0c1f5f" textLength="19.3" lengthAdjust="spacingAndGlyphs">1</text>
<text x="583.8" y="425.1" font-size="41.3" font-weight="normal" fill="#0c1f5f" textLength="23.7" lengthAdjust="spacingAndGlyphs">2</text>
<text x="769.4" y="619.9" font-size="41.3" font-weight="normal" fill="#0c1f5f" textLength="24.3" lengthAdjust="spacingAndGlyphs">3</text>
<text x="390.7" y="723.1" font-size="41.3" font-weight="normal" fill="#0c1f5f" textLength="23.5" lengthAdjust="spacingAndGlyphs">4</text>
</g>
<g id="phone">
<path d="M40.5 386 Q40.5 377 49 372 L113 331.5 Q120 327.5 126.5 331 L134 335.5 V500 L58 551.5 L45.5 544 Q40.5 541 40.5 533 Z" fill="url(#gPhoneSide)"/>
<path d="M49.5 392 Q49.5 383 57.5 378 L124.5 338.5 Q134 333 134 344 V489.5 Q134 500.5 125 506 L62.5 547.5 Q49.5 556 49.5 541 Z" fill="url(#gPhone)"/>
<path d="M56.7 392.4 L126.9 354 L126.9 487 L56.7 524.2 Z" fill="#ffffff" stroke="#ffffff" stroke-width="2" stroke-linejoin="round"/>
<path d="M82.5 368.6 L101.8 359" stroke="#ffffff" stroke-width="2" stroke-linecap="round"/>
<path d="M86.3 517 L98 510.5 L98 521.5 L86.3 528 Z" fill="#ffffff" stroke="#ffffff" stroke-width="1.5" stroke-linejoin="round"/>
<path d="M99.1 395.5 C99.9 396.3 100.8 398.3 100.9 400.7 C101 403.1 100.5 407 99.7 409.9 C98.9 412.8 97.5 415.3 96.3 418 C95 420.7 93.2 423.2 92.2 426.1 C91.2 429 90.5 432.1 90.2 435.3 C89.9 438.6 90 442.5 90.5 445.6 C91 448.7 92.2 452.6 93.4 453.7 C94.7 454.8 96.8 452.1 98 452.5 C99.2 452.9 99.7 454.1 100.3 456 C100.9 457.9 101.6 461.1 101.4 464 C101.2 466.9 100.3 470.8 99.1 473.3 C97.9 475.8 95.8 477.9 94 479 C92.2 480.1 89.9 481.3 88.2 480.2 C86.5 479.1 84.8 475.8 83.6 472.1 C82.4 468.5 81.7 463.3 81.3 458.3 C80.9 453.3 80.8 447.6 81.1 442.2 C81.4 436.8 82 431.3 83 426.1 C84 420.9 85.6 415.3 87.1 411.1 C88.6 406.9 90.7 403.2 92.2 400.7 C93.7 398.2 95.2 397 96.3 396.1 C97.4 395.2 98.3 394.7 99.1 395.5Z" fill="#2ab7f6"/>
<path d="M103.2 418.6 L113.5 422.6 L107.2 437 L98 433.5 Z" fill="#2ab7f6" stroke="#2ab7f6" stroke-width="0.8" stroke-linejoin="round"/>
<path d="M98 438.1 L103.2 439.9 L102 442.2 L97.4 440.4 Z" fill="#2ab7f6" stroke="#2ab7f6" stroke-width="0.8" stroke-linejoin="round"/>
</g>
<g id="ott">
<g fill="url(#gOttBack)"><circle cx="664.6" cy="942.8" r="30.3"/><circle cx="701.7" cy="906.1" r="39.8"/><circle cx="765" cy="887.7" r="50"/><circle cx="821.2" cy="917.8" r="39.4"/><circle cx="859" cy="942.8" r="30.3"/><polygon points="664.6,973.1 664.6,942.8 701.7,906.1 765,887.7 821.2,917.8 859,942.8 859,973.1"/><circle cx="668.1" cy="945.1" r="30.6"/><circle cx="705.2" cy="908.4" r="40.1"/><circle cx="768.5" cy="890" r="50.3"/><circle cx="824.7" cy="920.1" r="39.7"/><circle cx="862.5" cy="945.1" r="30.6"/><polygon points="668.1,975.7 668.1,945.1 705.2,908.4 768.5,890 824.7,920.1 862.5,945.1 862.5,975.7"/></g>
<g fill="#a9dbff"><circle cx="670.6" cy="943.3" r="30.3"/><circle cx="707.7" cy="906.6" r="39.8"/><circle cx="771" cy="888.2" r="50"/><circle cx="827.2" cy="918.3" r="39.4"/><circle cx="865" cy="943.3" r="30.3"/><polygon points="670.6,973.6 670.6,943.3 707.7,906.6 771,888.2 827.2,918.3 865,943.3 865,973.6"/></g>
<g fill="url(#gOttFace)"><circle cx="671.2" cy="943.7" r="29.1"/><circle cx="708.3" cy="907" r="38.6"/><circle cx="771.6" cy="888.6" r="48.8"/><circle cx="827.8" cy="918.7" r="38.2"/><circle cx="865.6" cy="943.7" r="29.1"/><polygon points="671.2,972.8 671.2,943.7 708.3,907 771.6,888.6 827.8,918.7 865.6,943.7 865.6,972.8"/></g>
<g font-family="'Liberation Sans', Arial, sans-serif">
<text y="935.7" font-size="42" fill="#ffffff" stroke="#ffffff" stroke-width="0.7"><tspan x="687.3" textLength="84.3" lengthAdjust="spacingAndGlyphs">OTT</tspan><tspan x="771.8" textLength="69.8" lengthAdjust="spacingAndGlyphs"> AS</tspan></text>
</g>
</g>
</svg>
</body>
</html>
